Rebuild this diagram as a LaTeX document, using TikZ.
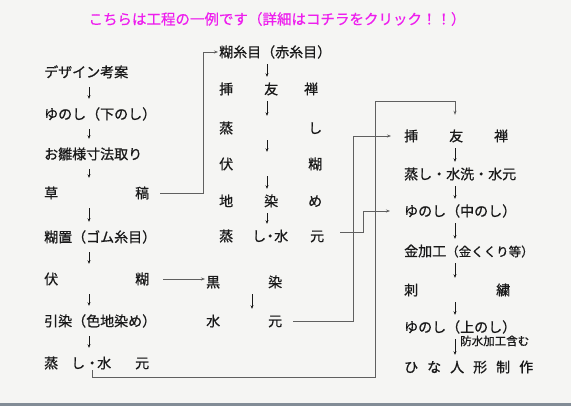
\documentclass[tikz,border=0pt]{standalone}
\usepackage{fontspec}
\newfontfamily\jpfont[FakeBold=0.8]{Noto Sans CJK JP}
\newfontfamily\ttlfont[FakeBold=0.5]{Noto Sans CJK JP}
\usetikzlibrary{arrows.meta,calc}
\definecolor{bg}{RGB}{245,245,243}
\definecolor{ink}{RGB}{25,25,25}
\definecolor{lin}{RGB}{95,95,95}
\definecolor{ttl}{RGB}{238,30,238}
\definecolor{edge}{RGB}{130,140,150}
\begin{document}
\begin{tikzpicture}[x=1pt,y=-1pt,
  lbl/.style={font=\jpfont\fontsize{14}{16}\selectfont, text=ink, inner sep=0pt, anchor=west, text height=12.3pt, text depth=1.7pt},
  dn/.style={draw=ink, line width=0.6pt, -{Stealth[length=3.5pt,width=3pt]}, shorten <=#1, shorten >=#1},
  dn/.default=6pt,
  conn/.style={draw=lin, line width=0.8pt, -{Stealth[length=4pt,width=3pt]}},
]
\fill[bg] (0,0) rectangle (571,406);
\fill[edge] (0,403) rectangle (571,406);
\useasboundingbox (0,0) rectangle (571,406);

\node[font=\ttlfont\fontsize{14.5}{16}\selectfont, text=ttl, inner sep=0pt] (title) at (277,19) {こちらは工程の一例です（詳細はコチラをクリック！！）};

% left column
\node[lbl] (L1) at (44,72) {デザイン考案};
\node[lbl] (L2) at (44,114) {ゆのし（下のし）};
\node[lbl] (L3) at (44,154) {お雛様寸法取り};
\node[lbl] (L4) at (44,193) {草\hspace{77pt}稿};
\node[lbl] (L5) at (44,237) {糊置（ゴム糸目）};
\node[lbl] (L6) at (44,279) {伏\hspace{77pt}糊};
\node[lbl] (L7) at (44,321) {引染（色地染め）};
\node[lbl] (L8) at (44,363) {蒸\hspace{13pt}し・\hspace{-2pt}水\hspace{24pt}元};

% middle column
\node[lbl] (M1) at (219,52) {糊糸目（赤糸目）};
\node[lbl] (M2) at (219,89) {挿\hspace{31pt}友\hspace{26pt}禅};
\node[lbl] (M3) at (219,128) {蒸\hspace{75pt}し};
\node[lbl] (M4) at (219,164) {伏\hspace{75pt}糊};
\node[lbl] (M5) at (219,201) {地\hspace{31pt}染\hspace{30pt}め};
\node[lbl] (M6) at (219,236) {蒸\hspace{19pt}し\hspace{-3pt}・\hspace{-3pt}水\hspace{22pt}元};

% black dye branch
\node[lbl] (K1) at (206,282) {黒\hspace{48pt}染};
\node[lbl] (K2) at (206,321) {水\hspace{48pt}元};

% right column
\node[lbl] (R1) at (404,136) {挿\hspace{31pt}友\hspace{31pt}禅};
\node[lbl] (R2) at (404,174) {蒸し・水洗・水元};
\node[lbl] (R3) at (404,211) {ゆのし（中のし）};
\node[lbl] (R4) at (404,251) {金加工{\fontsize{12.5}{14}\selectfont（金くくり等）}};
\node[lbl] (R5) at (404,290) {刺\hspace{78pt}繍};
\node[lbl] (R6) at (404,327) {ゆのし（上のし）};
\node[lbl] (R7) at (404,367) {ひ\hspace{9pt}な\hspace{9pt}人\hspace{9pt}形\hspace{9pt}制\hspace{9pt}作};
\node[lbl, font=\jpfont\fontsize{11.5}{13}\selectfont, text height=10pt, text depth=1.4pt] (note) at (460,341) {防水加工含む};

% arrow columns
\coordinate (xl) at (89,0);
\coordinate (xm) at (267,0);
\coordinate (xk) at (252,0);
\coordinate (xr) at (455,0);

\foreach \a/\b in {L1/L2,L2/L3,L3/L4,L4/L5,L5/L6,L6/L7,L7/L8}
  \draw[dn=8pt] (\a.south -| xl) -- (\b.north -| xl);
\foreach \a/\b in {M1/M2,M2/M3,M3/M4,M4/M5,M5/M6}
  \draw[dn=5pt] (\a.south -| xm) -- (\b.north -| xm);
\draw[dn=5pt] (K1.south -| xk) -- (K2.north -| xk);
\foreach \a/\b in {R1/R2,R2/R3,R3/R4,R4/R5,R5/R6,R6/R7}
  \draw[dn=5pt] (\a.south -| xr) -- (\b.north -| xr);

% connectors
\coordinate (j1) at (203,0);
\draw[conn, shorten >=1pt] ([xshift=11pt]L4.east) -| (j1 |- M1.west) -- (M1.west);
\draw[conn, shorten >=1pt] ([xshift=14pt]L6.east) -- (L6.east -| K1.west);
\coordinate (j3) at (353,0);
\draw[conn, shorten >=13pt] ([xshift=11pt]K2.east) -| (j3 |- R1.west) -- (R1.west);
\coordinate (j4) at (363,0);
\draw[conn, shorten >=14pt] ([xshift=16pt,yshift=4pt]M6.east) -| (j4 |- R3.west) -- (R3.west);
\coordinate (s5) at (92,0);
\coordinate (b5) at (375,377);
\coordinate (t5) at (375,101);
\draw[conn, shorten >=14pt] (s5 |- L8.south) |- (b5) -- (t5) -| (xr |- R1.north);
\end{tikzpicture}
\end{document}
